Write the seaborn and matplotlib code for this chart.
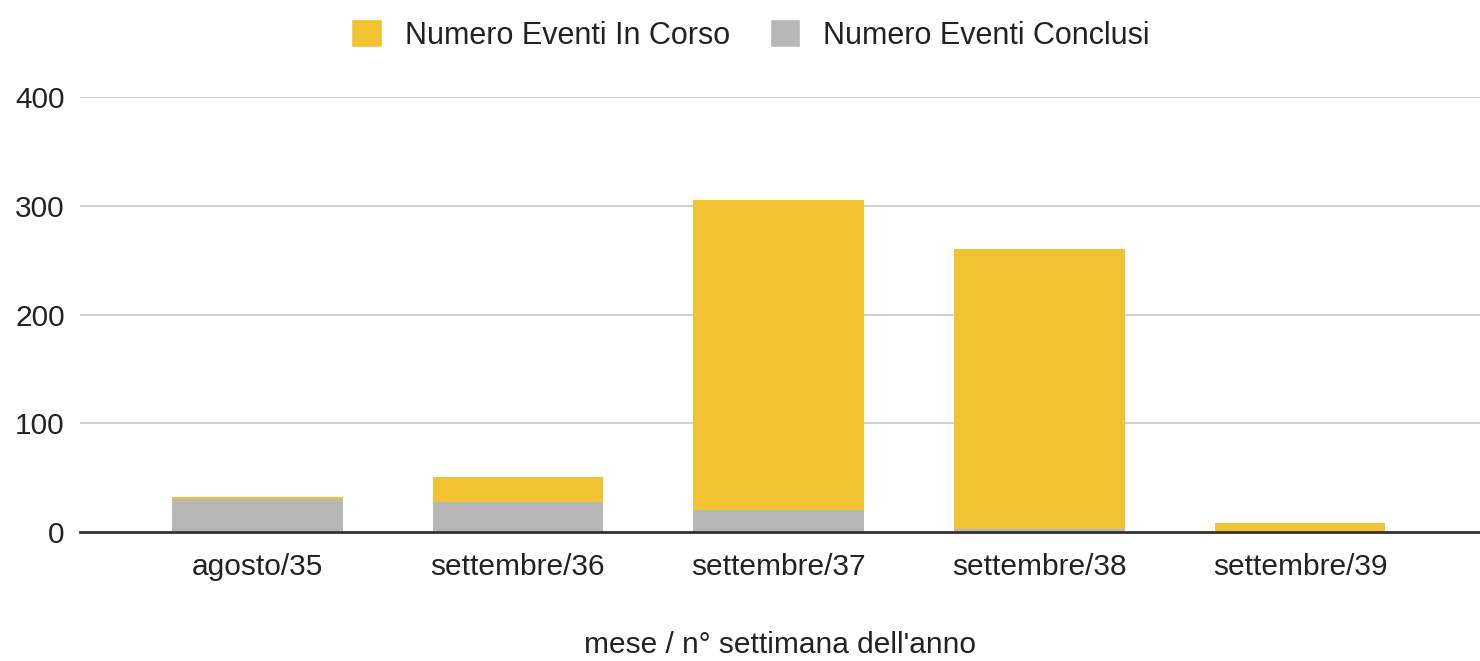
import pandas as pd
import matplotlib.pyplot as plt
import seaborn as sns
from matplotlib.patches import Patch

weeks = ["agosto/35", "settembre/36", "settembre/37", "settembre/38", "settembre/39"]
in_corso = [2, 23, 285, 257, 8]
conclusi = [30, 28, 20, 3, 0]

df = pd.DataFrame({"settimana": weeks, "in_corso": in_corso, "conclusi": conclusi})
df["totale"] = df["in_corso"] + df["conclusi"]

yellow = "#F1C232"
grey = "#B7B7B7"
fs = 21.5

sns.set_style("white")
plt.rcParams["font.family"] = ["Liberation Sans", "DejaVu Sans"]

fig = plt.figure(figsize=(14.8, 6.61), dpi=100)
ax = fig.add_axes([0.054, 0.195, 0.946, 0.658])

# stacked: total in yellow, conclusi drawn over it in grey
sns.barplot(data=df, x="settimana", y="totale", color=yellow, width=0.655,
            saturation=1, linewidth=0, ax=ax, zorder=2)
sns.barplot(data=df, x="settimana", y="conclusi", color=grey, width=0.655,
            saturation=1, linewidth=0, ax=ax, zorder=3)

ax.set_ylim(0, 400)
ax.set_xlim(-0.68, 4.69)
ax.set_yticks([0, 100, 200, 300, 400])
ax.yaxis.grid(True, color="#CCCCCC", linewidth=1.3, zorder=0)
ax.set_axisbelow(True)
for s in ["top", "right", "left"]:
    ax.spines[s].set_visible(False)
ax.spines["bottom"].set_color("#333333")
ax.spines["bottom"].set_linewidth(2)
ax.spines["bottom"].set_zorder(5)
ax.tick_params(axis="y", length=0, pad=11, labelsize=fs, labelcolor="#222222")
ax.tick_params(axis="x", length=0, pad=15, labelsize=fs, labelcolor="#222222")
ax.set_ylabel("")
ax.set_xlabel("mese / n° settimana dell'anno", fontsize=fs, color="#222222", labelpad=36)

handles = [Patch(facecolor=yellow, label="Numero Eventi In Corso"),
           Patch(facecolor=grey, label="Numero Eventi Conclusi")]
fig.legend(handles=handles, loc="center", bbox_to_anchor=(0.507, 1 - 35 / 661), ncol=2,
           frameon=False, fontsize=22, handlelength=1.0, handleheight=1.0,
           handletextpad=0.75, columnspacing=1.3, labelcolor="#222222",
           borderpad=0)

fig.savefig("out.png", dpi=100)
plt.close()
